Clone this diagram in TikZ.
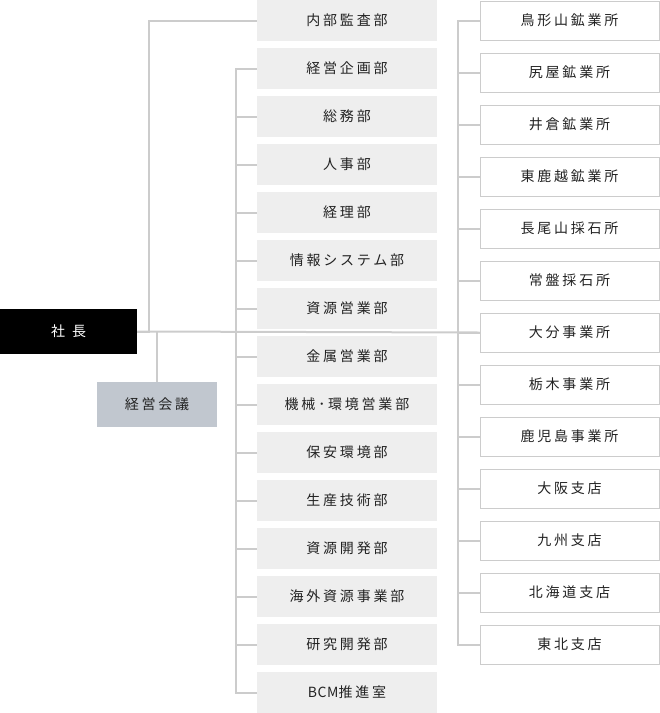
\documentclass[tikz,border=0pt]{standalone}
\usepackage{fontspec}
\setmainfont{Noto Sans CJK JP}[LetterSpace=20]
\definecolor{linegray}{HTML}{CCCCCC}
\definecolor{deptgray}{HTML}{EEEEEE}
\definecolor{mtggray}{HTML}{C1C7CF}
\definecolor{textgray}{HTML}{222222}

\begin{document}
\begin{tikzpicture}[x=1pt, y=-1pt, font=\fontsize{14}{16}\selectfont,
    dept/.style={fill=deptgray, text=textgray, minimum width=180pt, minimum height=41pt, inner sep=0pt},
    office/.style={draw=linegray, line width=1pt, fill=white, text=textgray, minimum width=179pt, minimum height=39pt, inner sep=0pt},
    link/.style={draw=linegray, line width=2pt}]
    \useasboundingbox (0,0) rectangle (660,713);

    \node[fill=black, text=white, minimum width=137pt, minimum height=45pt, inner sep=0pt] (ceo) at (68.5,331.5) {社\hspace{7pt}長};
    \node[fill=mtggray, text=textgray, minimum width=120pt, minimum height=45pt, inner sep=0pt] (mtg) at (157,404.5) {経営会議};

    \foreach \name [count=\i from 0] in {内部監査部,経営企画部,総務部,人事部,経理部,情報システム部,資源営業部,金属営業部,機械･環境営業部,保安環境部,生産技術部,資源開発部,海外資源事業部,研究開発部,{{\addfontfeature{LetterSpace=4}BCM}推進室}}
      \node[dept] (d\i) at (347, 48*\i+20.5) {\name};
    \foreach \name [count=\i from 0] in {鳥形山鉱業所,尻屋鉱業所,井倉鉱業所,東鹿越鉱業所,長尾山採石所,常盤採石所,大分事業所,栃木事業所,鹿児島事業所,大阪支店,九州支店,北海道支店,東北支店}
      \node[office] (r\i) at (569.5, 52*\i+20.5) {\name};

    \draw[link] (ceo.east) -- (r6.west);
    \draw[link] (d0.west) -- ++(-108,0) |- (ceo.east);
    \draw[link] (mtg.north) -- (mtg.north |- ceo.east);

    \draw[link] (d1.west) -- ++(-21,0) |- (d14.west);
    \foreach \i in {2,...,13}
      \draw[link] (d\i.west) -- ++(-21,0);
    \draw[link] (r0.west) -- ++(-22,0) |- (r12.west);
    \foreach \i in {1,...,11}
      \draw[link] (r\i.west) -- ++(-22,0);
\end{tikzpicture}
\end{document}
